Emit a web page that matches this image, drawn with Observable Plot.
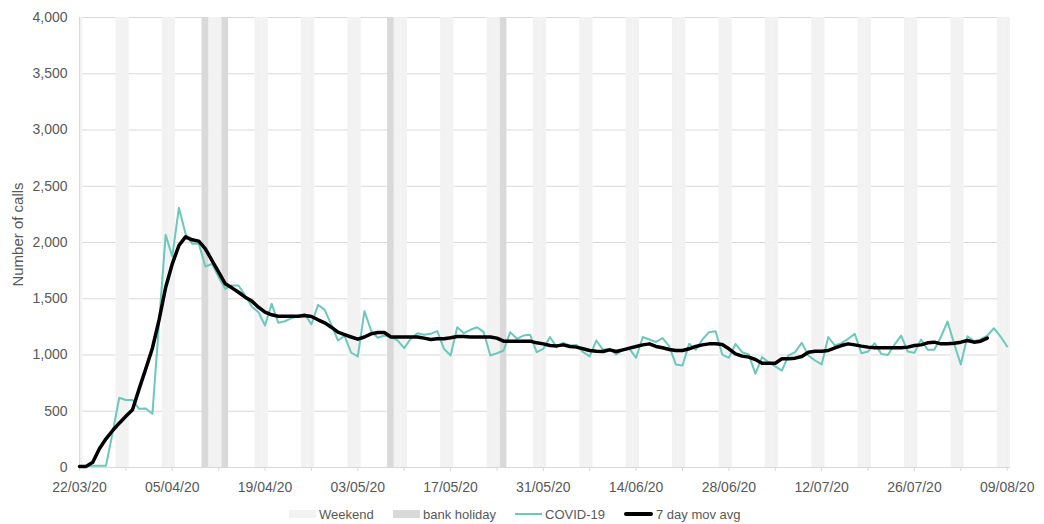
<!DOCTYPE html>
<html><head><meta charset="utf-8">
<script src="https://cdn.jsdelivr.net/npm/d3@7"></script>
<script src="https://cdn.jsdelivr.net/npm/@observablehq/plot@0.6"></script>
<style>
body{margin:0;background:#fff;font-family:"Liberation Sans",Arial,sans-serif;}
#chart svg{display:block;}
#legend{position:relative;width:1044px;height:24px;}
.item{position:absolute;top:0;height:28px;display:flex;align-items:center;font-size:13px;color:#595959;white-space:nowrap;}
.sw{display:inline-block;margin-right:3px;}
</style></head><body><div id="chart"></div><div id="legend"></div>
<script>
const startDate = "2020-03-22";
const covid = [10,10,15,15,15,310,620,600,600,522,525,477,1280,2068,1875,2308,2077,1990,1990,1787,
1810,1692,1588,1618,1618,1529,1431,1381,1262,1455,1286,1300,1327,1350,1365,1271,1446,1401,1270,1129,
1170,1020,987,1390,1218,1153,1173,1160,1130,1061,1145,1194,1180,1188,1212,1055,996,1247,1194,1224,
1247,1203,996,1016,1040,1203,1144,1173,1180,1025,1055,1160,1070,1108,1084,1090,1025,987,1129,1046,
1055,1004,1046,1055,975,1160,1138,1116,1150,1076,916,907,1099,1046,1138,1203,1212,1004,975,1099,
1025,1004,833,981,936,898,862,996,1025,1108,996,951,916,1160,1084,1105,1144,1188,1016,1031,
1105,1010,1001,1093,1173,1031,1019,1138,1046,1046,1160,1298,1099,916,1167,1123,1138,1173,1238,1164,1076];
const movAvg = [10,10,47,166,255,329,394,456,513,699,877,1060,1310,1600,1810,1973,2050,2024,2012,1944,
1840,1736,1633,1597,1558,1514,1479,1425,1381,1357,1345,1345,1345,1345,1351,1342,1313,1286,1247,1203,
1182,1160,1141,1160,1188,1200,1200,1160,1160,1160,1160,1160,1150,1138,1144,1144,1153,1164,1164,1160,
1160,1160,1160,1150,1123,1123,1123,1123,1123,1108,1099,1084,1081,1090,1076,1070,1055,1040,1034,1031,
1046,1031,1046,1061,1076,1090,1099,1076,1064,1049,1040,1040,1055,1076,1090,1099,1099,1093,1055,1010,
990,981,960,927,927,927,966,966,972,987,1025,1034,1034,1040,1064,1084,1099,1090,1079,1070,
1064,1064,1064,1064,1064,1070,1084,1090,1108,1114,1099,1099,1105,1114,1129,1114,1123,1150];
const bankHolidays = ["2020-04-10","2020-04-13","2020-05-08","2020-05-25"];
const tickLabels = ["22/03/20","05/04/20","19/04/20","03/05/20","17/05/20","31/05/20","14/06/20","28/06/20","12/07/20","26/07/20","09/08/20"];
const yTicks = [0,500,1000,1500,2000,2500,3000,3500,4000];
const yTitle = "Number of calls";
const seriesNames = ["COVID-19","7 day mov avg"];
const bandNames = ["Weekend","bank holiday"];

const colors = {weekend:"#f2f2f2", holiday:"#d9d9d9", covid:"#6cc8bc", avg:"#000000", grid:"#d9d9d9", text:"#595959"};

const start = d3.utcParse("%Y-%m-%d")(startDate);
const day = i => d3.utcDay.offset(start, i);
const lastDay = day(covid.length - 1);
const end = d3.utcHour.offset(lastDay, 12);
const parseTick = d3.utcParse("%d/%m/%y");

const covidData = covid.map((v, i) => ({date: day(i), value: v}));
const avgData = movAvg.map((v, i) => ({date: day(i), value: v}));

const band = d => ({
  x1: new Date(Math.max(+start, +d3.utcHour.offset(d, -12))),
  x2: new Date(Math.min(+end, +d3.utcHour.offset(d, 12))),
  y1: 0, y2: yTicks[yTicks.length - 1]
});
const weekends = covidData.map(d => d.date).filter(d => d.getUTCDay() === 0 || d.getUTCDay() === 6).map(band);
const holidays = bankHolidays.map(s => band(d3.utcParse("%Y-%m-%d")(s)));
const weekTicks = d3.range(0, covid.length, 7).map(day);

const chart = Plot.plot({
  width: 1044, height: 500,
  marginLeft: 79, marginRight: 34, marginTop: 17, marginBottom: 33,
  style: {fontFamily: '"Liberation Sans", Arial, sans-serif', color: colors.grid, background: "#fff"},
  x: {type: "utc", domain: [start, end], ticks: weekTicks, tickSize: 4, tickFormat: () => "", label: null},
  y: {domain: [0, yTicks[yTicks.length - 1]], axis: null},
  marks: [
    Plot.ruleY(yTicks, {stroke: colors.grid, strokeWidth: 1}),
    Plot.rect(weekends, {x1: "x1", x2: "x2", y1: "y1", y2: "y2", fill: colors.weekend}),
    Plot.rect(holidays, {x1: "x1", x2: "x2", y1: "y1", y2: "y2", fill: colors.holiday}),
    Plot.ruleY([0], {stroke: colors.grid}),
    Plot.ruleX([start], {stroke: colors.grid}),
    Plot.line(covidData, {x: "date", y: "value", stroke: colors.covid, strokeWidth: 2, strokeLinejoin: "round"}),
    Plot.line(avgData, {x: "date", y: "value", stroke: colors.avg, strokeWidth: 3.5, strokeLinejoin: "round", strokeLinecap: "round"}),
    Plot.text(yTicks, {y: d => d, text: d => d3.format(",")(d), frameAnchor: "left", textAnchor: "end", dx: -12, fill: colors.text, fontSize: 14}),
    Plot.text(tickLabels, {x: d => parseTick(d), y: d => 0, text: d => d, dy: 20.5, fill: colors.text, fontSize: 14}),
    Plot.text([yTitle], {frameAnchor: "left", textAnchor: "middle", lineAnchor: "middle", dx: -61, dy: -8, rotate: -90, text: d => d, fill: colors.text, fontSize: 15})
  ]
});
document.getElementById("chart").appendChild(chart);

const legend = document.getElementById("legend");
const items = [
  {left: 289, label: bandNames[0], sw: `width:27px;height:8px;background:${colors.weekend}`},
  {left: 393, label: bandNames[1], sw: `width:27px;height:8px;background:${colors.holiday}`},
  {left: 515, label: seriesNames[0], sw: `width:27px;height:2px;background:${colors.covid}`},
  {left: 624, label: seriesNames[1], sw: `width:29px;height:3.5px;background:${colors.avg};border-radius:2px`}
];
items.forEach(it => {
  const el = document.createElement("div");
  el.className = "item";
  el.style.left = it.left + "px";
  el.innerHTML = `<span class="sw" style="${it.sw}"></span><span>${it.label}</span>`;
  legend.appendChild(el);
});
</script>
</body></html>
